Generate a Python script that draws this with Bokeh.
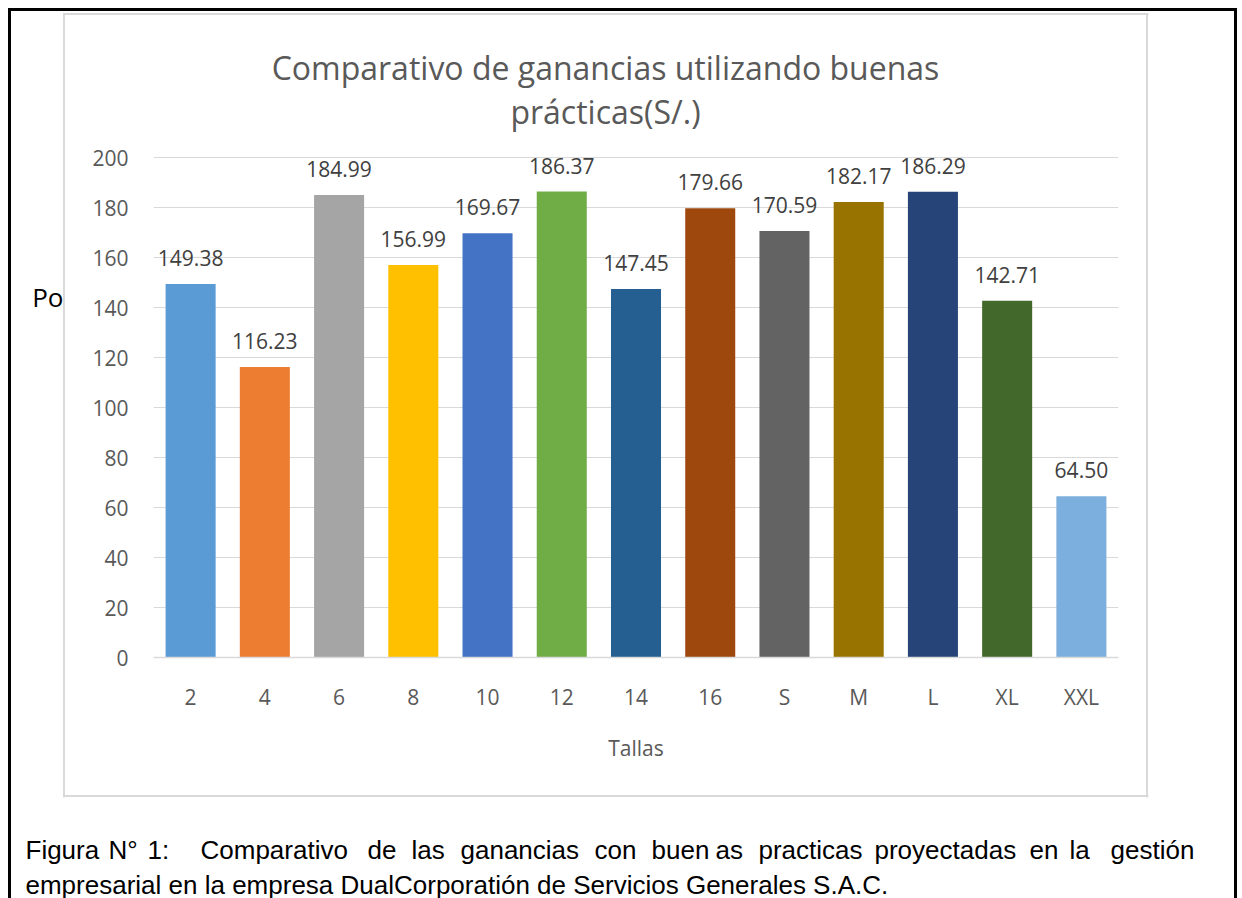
from bokeh.plotting import figure
from bokeh.layouts import column, row
from bokeh.models import ColumnDataSource, FactorRange, Range1d, FixedTicker, Label
from bokeh.core.properties import value
from bokeh.embed import file_html
from bokeh.resources import INLINE

# ---- data ----
tallas = ["2", "4", "6", "8", "10", "12", "14", "16", "S", "M", "L", "XL", "XXL"]
ganancias = [149.38, 116.23, 184.99, 156.99, 169.67, 186.37, 147.45, 179.66,
             170.59, 182.17, 186.29, 142.71, 64.50]
colores = ["#5B9BD5", "#ED7D31", "#A5A5A5", "#FFC000", "#4472C4", "#70AD47", "#255E91",
           "#9E480E", "#636363", "#997300", "#264478", "#43682B", "#7CAFDD"]
y_ticks = [0, 20, 40, 60, 80, 100, 120, 140, 160, 180, 200]

titulo_1 = "Comparativo de ganancias utilizando buenas"
titulo_2 = "prácticas(S/.)"
eje_x = "Tallas"
eje_y = "Po"
caption_1 = ["Figura", "N°", "1:", "Comparativo", "de", "las", "ganancias", "con",
             "buen", "as", "practicas", "proyectadas", "en", "la", "gestión"]
caption_2 = "empresarial en la empresa DualCorporatión de Servicios Generales S.A.C."

# ---- layout (page pixels) ----
W, H = 1242, 898
TOP_H, MID_H = 140, 650
L_W = 70
M_W = W - L_W
caption_1_x = [25, 108, 147, 200, 367, 411, 460, 594, 651, 715, 758, 874, 1029, 1069, 1110]

# frame lines: (left, top, width, height, colour)
frame_lines = [
    (8, 8, 3, H - 8, "#000000"),          # outer border, left
    (1234, 8, 3, H - 8, "#000000"),       # outer border, right
    (8, 8, 1229, 3, "#000000"),           # outer border, top
    (62.5, 12.5, 2, 784.5, "#d9d9d9"),    # chart area, left
    (1146, 12.5, 2, 784.5, "#d9d9d9"),    # chart area, right
    (62.5, 12.5, 1085.5, 2, "#d9d9d9"),   # chart area, top
    (62.5, 795, 1085.5, 2, "#d9d9d9"),    # chart area, bottom
]


def deco(x0, x1, y0, y1):
    f = figure(width=x1 - x0, height=y1 - y0,
               x_range=Range1d(x0, x1), y_range=Range1d(y1, y0),
               output_backend="svg", toolbar_location=None, min_border=0,
               x_axis_location=None, y_axis_location=None)
    f.outline_line_color = None
    f.border_fill_alpha = 0
    f.background_fill_alpha = 0
    f.grid.grid_line_color = None
    return f


# ---- top: title ----
top = deco(0, W, 0, TOP_H)
for txt, yy in [(titulo_1, 67), (titulo_2, 111)]:
    top.add_layout(Label(x=605, y=yy, text=txt, text_align="center",
                         text_baseline="alphabetic", text_font="Open Sans",
                         text_font_size="32px", text_color="#595959"))

# ---- bottom: caption ----
bot = deco(0, W, TOP_H + MID_H, H)
for w, xx in zip(caption_1, caption_1_x):
    bot.add_layout(Label(x=xx, y=849, text=w, text_align="left", text_baseline="alphabetic",
                         text_font="Liberation Sans", text_font_size="26px",
                         text_color="black"))
bot.add_layout(Label(x=25, y=884, text=caption_2, text_align="left",
                     text_baseline="alphabetic", text_font="Liberation Sans",
                     text_font_size="26px", text_color="black"))

# ---- main chart ----
MB_TOP, MB_BOT = 2, 133
src = ColumnDataSource(dict(t=tallas, g=ganancias, c=colores,
                            lab=["%.2f" % v for v in ganancias]))

p = figure(width=M_W, height=MID_H,
           x_range=FactorRange(factors=tallas, range_padding=0),
           y_range=Range1d(0, 206),
           output_backend="svg", toolbar_location=None,
           min_border_left=153 - L_W, min_border_right=W - 1118,
           min_border_top=MB_TOP, min_border_bottom=MB_BOT)
p.outline_line_color = None
p.background_fill_color = "white"
p.border_fill_alpha = 0

p.vbar(x="t", top="g", width=0.674, source=src, fill_color="c", line_color=None)
p.text(x="t", y="g", text="lab", source=src, text_align="center",
       text_baseline="alphabetic", y_offset=-26,
       text_font=value("Open Sans"), text_font_size="21px", text_color="#404040")

p.xgrid.grid_line_color = None
p.ygrid.grid_line_color = "#d9d9d9"
p.ygrid.grid_line_width = 1
p.ygrid.ticker = FixedTicker(ticks=y_ticks)

ya = p.yaxis[0]
ya.ticker = FixedTicker(ticks=y_ticks)
ya.axis_line_color = None
ya.major_tick_line_color = None
ya.minor_tick_line_color = None
ya.major_tick_out = 0
ya.major_tick_in = 0
ya.major_label_standoff = 25
ya.major_label_text_font = "Open Sans"
ya.major_label_text_font_size = "21px"
ya.major_label_text_color = "#595959"

xa = p.xaxis[0]
xa.axis_line_color = "#d9d9d9"
xa.axis_line_width = 1.5
xa.major_tick_line_color = None
xa.minor_tick_line_color = None
xa.major_tick_out = 0
xa.major_tick_in = 0
xa.major_label_standoff = 25
xa.major_label_text_font = "Open Sans"
xa.major_label_text_font_size = "21px"
xa.major_label_text_color = "#595959"
xa.axis_label = eje_x
xa.axis_label_text_font = "Open Sans"
xa.axis_label_text_font_size = "21px"
xa.axis_label_text_font_style = "normal"
xa.axis_label_text_color = "#595959"
xa.axis_label_standoff = 20

# ---- left strip (same vertical borders as the chart, so frames line up) ----
fy0, fy1 = TOP_H + MB_TOP, TOP_H + MID_H - MB_BOT
left = figure(width=L_W, height=MID_H, x_range=Range1d(0, L_W), y_range=Range1d(fy1, fy0),
              output_backend="svg", toolbar_location=None,
              min_border_left=0, min_border_right=0,
              min_border_top=MB_TOP, min_border_bottom=MB_BOT,
              x_axis_location=None, y_axis_location=None)
left.outline_line_color = None
left.border_fill_alpha = 0
left.background_fill_alpha = 0
left.grid.grid_line_color = None
left.add_layout(Label(x=63, y=296, text=eje_y, text_align="right", text_baseline="middle",
                      text_font="Open Sans", text_font_size="26px", text_color="black"))

# frame lines painted as CSS background layers behind the (transparent) figures
bg_styles = {
    "background-color": "white",
    "background-image": ", ".join(f"linear-gradient({c}, {c})" for *_, c in frame_lines),
    "background-position": ", ".join(f"{x}px {y}px" for x, y, *_ in frame_lines),
    "background-size": ", ".join(f"{w}px {h}px" for _, _, w, h, _ in frame_lines),
    "background-repeat": "no-repeat",
}

mid = row(left, p, spacing=0)
layout = column(top, mid, bot, spacing=0, styles=bg_styles)

open("out.html", "w").write(file_html(layout, INLINE))
